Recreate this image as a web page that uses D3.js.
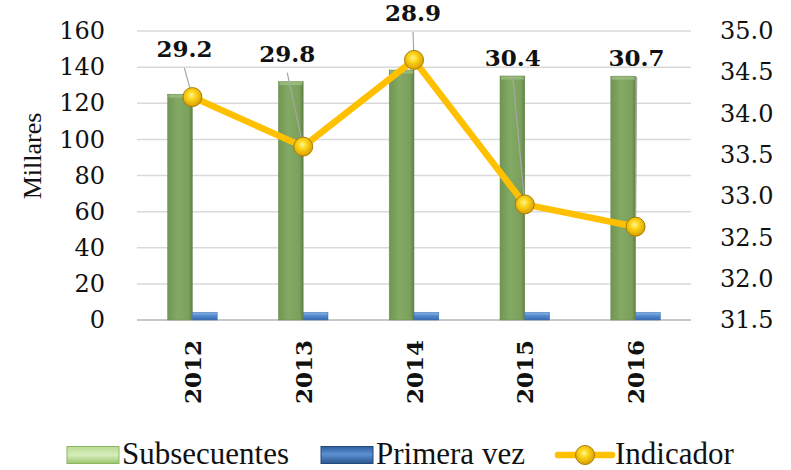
<!DOCTYPE html>
<html>
<head>
<meta charset="utf-8">
<script src="https://cdn.jsdelivr.net/npm/d3@7"></script>
<style>
  body { margin: 0; background: #fff; }
  svg { display: block; }
</style>
</head>
<body>
<div id="chart"></div>
<script>
// chart data
var years = ["2012", "2013", "2014", "2015", "2016"];
var subsecuentes = [125, 132, 138.4, 135.1, 135];
var primeraVez = [4.3, 4.3, 4.3, 4.3, 4.3];
var indicador = [34.2, 33.6, 34.65, 32.9, 32.63];
var indicadorLabels = ["29.2", "29.8", "28.9", "30.4", "30.7"];
var leftTicks = [0, 20, 40, 60, 80, 100, 120, 140, 160];
var rightTicks = [31.5, 32.0, 32.5, 33.0, 33.5, 34.0, 34.5, 35.0];

// label offsets from the marker (layout only)
var labelOffsets = [[-8, -40], [-16, -85], [-1, -39], [-12, -138], [1, -161]];

var fontA = "'DejaVu Serif', serif";
var fontB = "'Liberation Serif', serif";

var svgWidth = 791;
var svgHeight = 470;

var margin = { top: 31, right: 100, bottom: 150, left: 137 };
var chartWidth = svgWidth - margin.left - margin.right;
var chartHeight = svgHeight - margin.top - margin.bottom;

var svg = d3.select("#chart")
  .append("svg")
  .attr("width", svgWidth)
  .attr("height", svgHeight);

var defs = svg.append("defs");

// green bar gradient
var gGreen = defs.append("linearGradient").attr("id", "gGreen")
  .attr("x1", "0").attr("x2", "1").attr("y1", "0").attr("y2", "0");
gGreen.append("stop").attr("offset", "0%").attr("stop-color", "#6f9552");
gGreen.append("stop").attr("offset", "40%").attr("stop-color", "#83aa64");
gGreen.append("stop").attr("offset", "85%").attr("stop-color", "#7ba05d");
gGreen.append("stop").attr("offset", "100%").attr("stop-color", "#5e7f45");

var gBlue = defs.append("linearGradient").attr("id", "gBlue")
  .attr("x1", "0").attr("x2", "0").attr("y1", "0").attr("y2", "1");
gBlue.append("stop").attr("offset", "0%").attr("stop-color", "#8db7ea");
gBlue.append("stop").attr("offset", "50%").attr("stop-color", "#4f86cc");
gBlue.append("stop").attr("offset", "100%").attr("stop-color", "#3a6cae");

var gLegGreen = defs.append("linearGradient").attr("id", "gLegGreen")
  .attr("x1", "0").attr("x2", "0").attr("y1", "0").attr("y2", "1");
gLegGreen.append("stop").attr("offset", "0%").attr("stop-color", "#b9dc92");
gLegGreen.append("stop").attr("offset", "50%").attr("stop-color", "#d6edbb");
gLegGreen.append("stop").attr("offset", "100%").attr("stop-color", "#9cc66e");

var gLegBlue = defs.append("linearGradient").attr("id", "gLegBlue")
  .attr("x1", "0").attr("x2", "0").attr("y1", "0").attr("y2", "1");
gLegBlue.append("stop").attr("offset", "0%").attr("stop-color", "#2f5f9c");
gLegBlue.append("stop").attr("offset", "45%").attr("stop-color", "#5b90d2");
gLegBlue.append("stop").attr("offset", "100%").attr("stop-color", "#2a568e");

var gBall = defs.append("radialGradient").attr("id", "gBall")
  .attr("cx", "45%").attr("cy", "40%").attr("r", "60%");
gBall.append("stop").attr("offset", "0%").attr("stop-color", "#fff3a0");
gBall.append("stop").attr("offset", "35%").attr("stop-color", "#ffd81c");
gBall.append("stop").attr("offset", "100%").attr("stop-color", "#d99e00");

var chartGroup = svg.append("g")
  .attr("transform", `translate(${margin.left}, ${margin.top})`);

// scales
var xScale = d3.scaleBand()
  .domain(years)
  .range([0, chartWidth]);

var barWidth = 24.8;
var x1 = d3.scaleBand()
  .domain(["sub", "pri"])
  .range([-barWidth, barWidth]);

var yLeft = d3.scaleLinear()
  .domain([0, 160])
  .range([chartHeight, 0]);

var yRight = d3.scaleLinear()
  .domain([31.5, 35])
  .range([chartHeight, 0]);

function cx(i) {
  return xScale(years[i]) + xScale.bandwidth() / 2;
}

// gridlines
chartGroup.append("g")
  .selectAll("line")
  .data(leftTicks)
  .enter()
  .append("line")
  .attr("x1", 0)
  .attr("x2", chartWidth)
  .attr("y1", d => yLeft(d))
  .attr("y2", d => yLeft(d))
  .attr("stroke", d => d === 0 ? "#c8c8c8" : "#d9d9d9")
  .attr("stroke-width", d => d === 0 ? 2 : 1.5);

// left axis
var leftAxis = d3.axisLeft(yLeft).tickValues(leftTicks).tickSize(0).tickPadding(32);
chartGroup.append("g")
  .call(leftAxis)
  .call(g => g.select(".domain").remove())
  .selectAll("text")
  .style("font-family", fontA)
  .style("font-size", "24px")
  .attr("fill", "#111");

// right axis
var rightAxis = d3.axisRight(yRight).tickValues(rightTicks).tickSize(0).tickPadding(29)
  .tickFormat(d3.format(".1f"));
chartGroup.append("g")
  .attr("transform", `translate(${chartWidth}, 0)`)
  .call(rightAxis)
  .call(g => g.select(".domain").remove())
  .selectAll("text")
  .style("font-family", fontA)
  .style("font-size", "24px")
  .attr("fill", "#111");

// year labels
chartGroup.append("g")
  .selectAll("text")
  .data(years)
  .enter()
  .append("text")
  .attr("transform", (d, i) => `translate(${cx(i) + 8.5}, ${chartHeight + 20}) rotate(-90)`)
  .attr("text-anchor", "end")
  .style("font-family", fontA)
  .style("font-weight", "bold")
  .style("font-size", "23px")
  .attr("fill", "#111")
  .text(d => d);

// y axis title
svg.append("text")
  .attr("transform", "translate(41, 156) rotate(-90)")
  .attr("text-anchor", "middle")
  .style("font-family", fontB)
  .style("font-size", "26px")
  .attr("fill", "#111")
  .text("Millares");

// bars
chartGroup.append("g")
  .selectAll("rect")
  .data(subsecuentes)
  .enter()
  .append("rect")
  .attr("x", (d, i) => cx(i) + x1("sub"))
  .attr("y", d => yLeft(d))
  .attr("width", x1.bandwidth())
  .attr("height", d => chartHeight - yLeft(d))
  .attr("fill", "url(#gGreen)")
  .attr("stroke", "#6a8d50")
  .attr("stroke-width", 0.5);

// light bevel on the bar tops
chartGroup.append("g")
  .selectAll("rect")
  .data(subsecuentes)
  .enter()
  .append("rect")
  .attr("x", (d, i) => cx(i) + x1("sub") + 1)
  .attr("y", d => yLeft(d) + 0.5)
  .attr("width", x1.bandwidth() - 2)
  .attr("height", 3)
  .attr("fill", "#9dbf82")
  .attr("opacity", 0.8);

chartGroup.append("g")
  .selectAll("rect")
  .data(primeraVez)
  .enter()
  .append("rect")
  .attr("x", (d, i) => cx(i) + x1("pri"))
  .attr("y", d => yLeft(d))
  .attr("width", x1.bandwidth())
  .attr("height", d => chartHeight - yLeft(d))
  .attr("fill", "url(#gBlue)")
  .attr("stroke", "#3b6ba8")
  .attr("stroke-width", 0.5);

// leader lines
chartGroup.append("g")
  .selectAll("line")
  .data(indicador)
  .enter()
  .append("line")
  .attr("x1", (d, i) => cx(i) + labelOffsets[i][0])
  .attr("y1", (d, i) => yRight(d) + labelOffsets[i][1] + 11)
  .attr("x2", (d, i) => cx(i))
  .attr("y2", d => yRight(d))
  .attr("stroke", "#a6a6a6")
  .attr("stroke-width", 1.2);

// indicator line
var line = d3.line()
  .x((d, i) => cx(i))
  .y(d => yRight(d));

chartGroup.append("path")
  .datum(indicador)
  .attr("d", line)
  .attr("fill", "none")
  .attr("stroke", "#ffc000")
  .attr("stroke-width", 6.5)
  .attr("stroke-linejoin", "round");

chartGroup.append("g")
  .selectAll("circle")
  .data(indicador)
  .enter()
  .append("circle")
  .attr("cx", (d, i) => cx(i))
  .attr("cy", d => yRight(d))
  .attr("r", 9.5)
  .attr("fill", "url(#gBall)")
  .attr("stroke", "#a87c00")
  .attr("stroke-width", 1);

// data labels
chartGroup.append("g")
  .selectAll("text")
  .data(indicadorLabels)
  .enter()
  .append("text")
  .attr("x", (d, i) => cx(i) + labelOffsets[i][0])
  .attr("y", (d, i) => yRight(indicador[i]) + labelOffsets[i][1])
  .attr("text-anchor", "middle")
  .style("font-family", fontA)
  .style("font-weight", "bold")
  .style("font-size", "23px")
  .attr("fill", "#111")
  .text(d => d);

// legend
var legend = svg.append("g");
var legendY = 455;

legend.append("rect")
  .attr("x", 67).attr("y", legendY - 8.5)
  .attr("width", 52).attr("height", 17)
  .attr("fill", "url(#gLegGreen)")
  .attr("stroke", "#8cb562").attr("stroke-width", 1);
legend.append("text")
  .attr("x", 122).attr("y", legendY + 9)
  .style("font-family", fontB).style("font-size", "31px").attr("fill", "#111")
  .text("Subsecuentes");

legend.append("rect")
  .attr("x", 321).attr("y", legendY - 8.5)
  .attr("width", 52).attr("height", 17)
  .attr("fill", "url(#gLegBlue)")
  .attr("stroke", "#24497a").attr("stroke-width", 1);
legend.append("text")
  .attr("x", 376).attr("y", legendY + 9)
  .style("font-family", fontB).style("font-size", "31px").attr("fill", "#111")
  .text("Primera vez");

legend.append("line")
  .attr("x1", 558).attr("x2", 612)
  .attr("y1", legendY).attr("y2", legendY)
  .attr("stroke", "#ffc000").attr("stroke-width", 6.5)
  .attr("stroke-linecap", "round");
legend.append("circle")
  .attr("cx", 585).attr("cy", legendY).attr("r", 9.5)
  .attr("fill", "url(#gBall)")
  .attr("stroke", "#a87c00").attr("stroke-width", 1);
legend.append("text")
  .attr("x", 615).attr("y", legendY + 9)
  .style("font-family", fontB).style("font-size", "31px").attr("fill", "#111")
  .text("Indicador");
</script>
</body>
</html>
